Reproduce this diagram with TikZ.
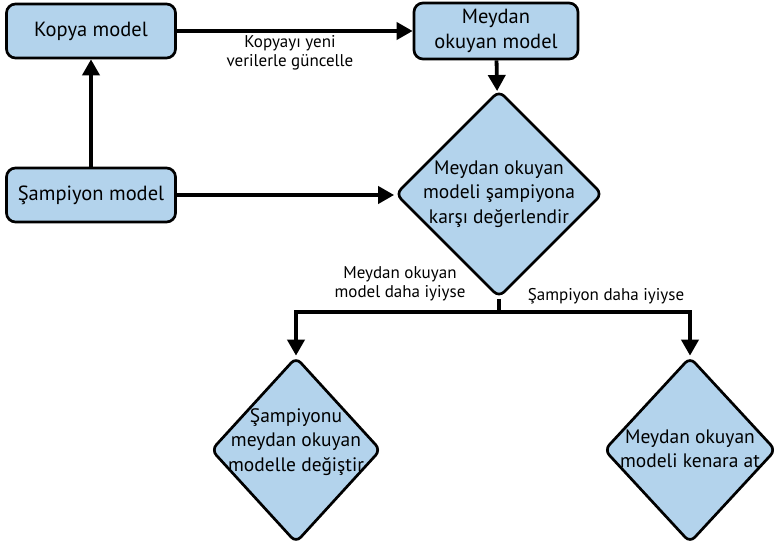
\documentclass[tikz,border=0pt]{standalone}
\usepackage{fontspec}
\setmainfont{PT Sans}
\usetikzlibrary{shapes.geometric,arrows.meta}
\definecolor{boxblue}{HTML}{B3D3EC}
\begin{document}
\begin{tikzpicture}[x=1pt,y=-1pt,
 box/.style={draw=black,line width=2.7pt,fill=boxblue,rounded corners=9pt,minimum width=169pt,minimum height=54pt,inner sep=0pt,font=\fontsize{20.5}{25}\selectfont,align=center},
 dia/.style={diamond,draw=black,line width=2.7pt,fill=boxblue,rounded corners=7pt,inner sep=0pt},
 dtext/.style={align=center,font=\fontsize{19.5}{24.5}\selectfont},
 conn/.style={line width=3.8pt,-{Triangle[length=16pt,width=17pt]}},
 lbl/.style={font=\fontsize{17}{18.5}\selectfont,align=center}
]
\useasboundingbox (0,0) rectangle (781,545);
\node[box] (kopya) at (91,31) {Kopya model};
\node[box,minimum width=164pt,minimum height=56pt] (meydan) at (496,31) {Meydan\\okuyan model};
\node[box] (samp) at (91,195) {Şampiyon model};
\node[dia,minimum width=207pt,minimum height=207pt] (big) at (499,194) {};
\node[dtext] (bigt) at (big.center) {Meydan okuyan\\modeli şampiyona\\karşı değerlendir};
\node[dia,minimum width=170pt,minimum height=186pt] (left) at (296,450) {};
\node[dtext] (leftt) at ([yshift=8pt]left.center) {Şampiyonu\\meydan okuyan\\modelle değiştir};
\node[dia,minimum width=172pt,minimum height=186pt] (right) at (690,450) {};
\node[dtext] (rightt) at ([yshift=1pt]right.center) {Meydan okuyan\\modeli kenara at};
\coordinate (br) at (499,312);
\draw[conn] (samp) -- (kopya);
\draw[conn] (kopya) -- (meydan);
\draw[conn] (samp.east) -- (samp.east -| big.west);
\draw[conn] (meydan) -- (big);
\draw[line width=3.8pt] (big.south) -- (br);
\draw[conn] (br) -| (left.north);
\draw[conn] (br) -| (right.north);
\node[lbl] (l1) at (290,53) {Kopyayı yeni\\verilerle güncelle};
\node[lbl] (l2) at (400,284) {Meydan okuyan\\model daha iyiyse};
\node[lbl] (l3) at (606,296) {Şampiyon daha iyiyse};
\end{tikzpicture}
\end{document}
